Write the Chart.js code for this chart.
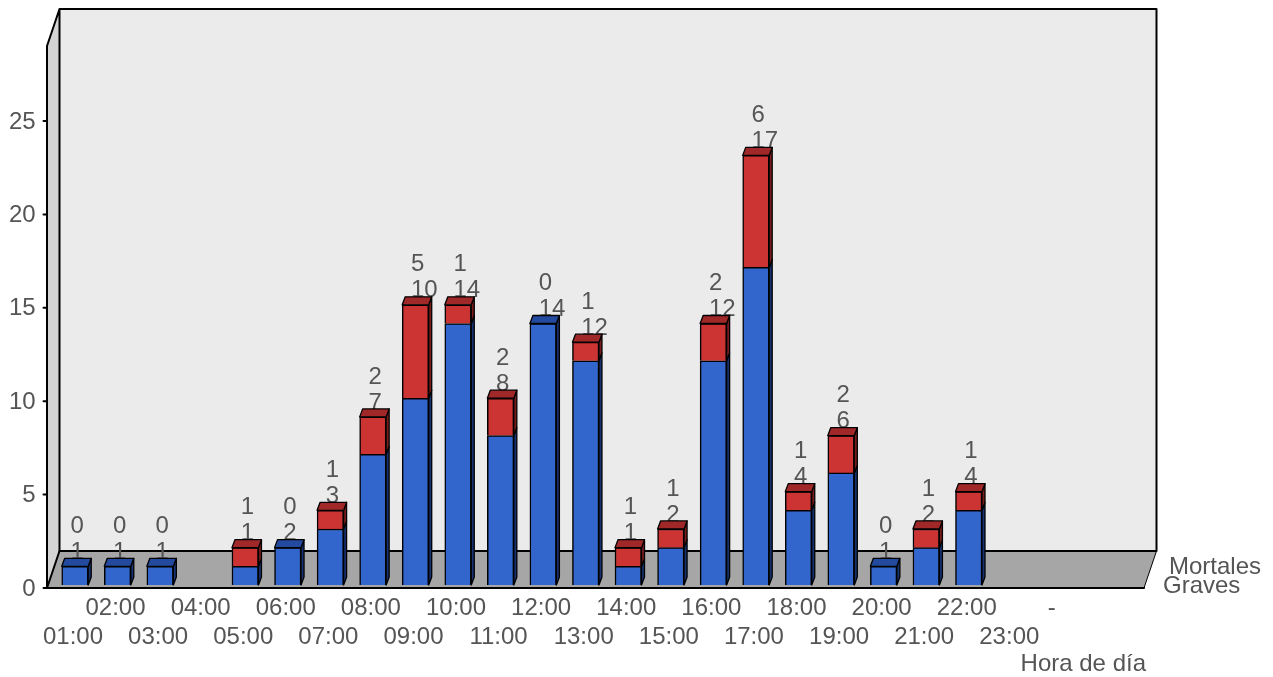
<!DOCTYPE html>
<html>
<head>
<meta charset="utf-8">
<style>
  html, body { margin: 0; padding: 0; background: #fff; }
  canvas { display: block; }
</style>
<script src="https://cdn.jsdelivr.net/npm/chart.js@4"></script>
</head>
<body>
<canvas id="horas" width="1273" height="677"></canvas>
<script>
const hourLabels = ["01:00", "02:00", "03:00", "04:00", "05:00", "06:00", "07:00", "08:00", "09:00", "10:00", "11:00", "12:00",
  "13:00", "14:00", "15:00", "16:00", "17:00", "18:00", "19:00", "20:00", "21:00", "22:00", "23:00", "-", ""];
const graves = [1, 1, 1, null, 1, 2, 3, 7, 10, 14, 8, 14, 12, 1, 2, 12, 17, 4, 6, 1, 2, 4, null, null, null];
const mortales = [0, 0, 0, null, 1, 0, 1, 2, 5, 1, 2, 0, 1, 1, 1, 2, 6, 1, 2, 0, 1, 1, null, null, null];
const seriesNames = ["Graves", "Mortales"];
const axisTitle = "Hora de día";

const textColor = "#555555";
const fontName = "'Liberation Sans', Arial, sans-serif";
const faces = [
  { front: "#3366cc", top: "#234a9e", side: "#173272" },
  { front: "#cc3333", top: "#a12828", side: "#7a1c1c" }
];

// caja 3D alrededor del area de barras
const box3d = {
  id: "box3d",
  beforeDraw(chart) {
    const ctx = chart.ctx;
    const x = chart.scales.x, y = chart.scales.y;
    const fl = x.left - 6.7, fr = x.right + 26.3;
    const fb = y.bottom + 3, ft = y.top + 2.7;
    const dx = 12.5, dy = 37;

    function poly(points, fill) {
      ctx.beginPath();
      points.forEach((p, i) => i ? ctx.lineTo(p[0], p[1]) : ctx.moveTo(p[0], p[1]));
      ctx.closePath();
      ctx.fillStyle = fill;
      ctx.fill();
    }
    function line(points, width) {
      ctx.beginPath();
      points.forEach((p, i) => i ? ctx.lineTo(p[0], p[1]) : ctx.moveTo(p[0], p[1]));
      ctx.lineWidth = width;
      ctx.strokeStyle = "#000";
      ctx.stroke();
    }
    ctx.save();
    ctx.lineJoin = "round";
    ctx.lineCap = "round";
    poly([[fl + dx, ft - dy], [fr + dx, ft - dy], [fr + dx, fb - dy], [fl + dx, fb - dy]], "#ebebeb");
    poly([[fl, ft], [fl + dx, ft - dy], [fl + dx, fb - dy], [fl, fb]], "#d4d4d4");
    poly([[fl, fb], [fl + dx, fb - dy], [fr + dx, fb - dy], [fr, fb]], "#a6a6a6");
    line([[fl, fb], [fl, ft], [fl + dx, ft - dy], [fr + dx, ft - dy], [fr + dx, fb - dy], [fl + dx, fb - dy], [fl + dx, ft - dy]], 2);
    line([[fl, fb], [fl + dx, fb - dy]], 2);
    line([[fl, fb], [fr, fb]], 2);
    line([[fr, fb], [fr + dx, fb - dy]], 1);

    // rayitas del eje Y
    y.ticks.forEach(t => {
      const py = y.getPixelForValue(t.value) + 3;
      line([[fl - 3.5, py], [fl, py]], 2);
    });

    // nombres de serie y titulo
    ctx.fillStyle = textColor;
    ctx.font = "24px " + fontName;
    ctx.textBaseline = "middle";
    ctx.textAlign = "left";
    ctx.fillText(chart.data.datasets[1].label, fr + 25, fb - 21);
    ctx.fillText(chart.data.datasets[0].label, fr + 19, fb - 2);
    ctx.textAlign = "right";
    ctx.fillText(axisTitle, fr + 2, 664);
    ctx.restore();
  },
  // los numeros quedan por detras de las barras
  beforeDatasetsDraw(chart) {
    const ctx = chart.ctx;
    const low = chart.getDatasetMeta(0).data, high = chart.getDatasetMeta(1).data;
    ctx.save();
    ctx.fillStyle = textColor;
    ctx.font = "24px " + fontName;
    ctx.textAlign = "left";
    ctx.textBaseline = "middle";
    graves.forEach((g, i) => {
      if (g === null) return;
      const left = low[i].x - 4.5, top = high[i].y;
      ctx.fillText(String(g), left, top - 14);
      ctx.fillText(String(mortales[i]), left, top - 40);
    });
    ctx.restore();
  },
  afterDatasetsDraw(chart) {
    const ctx = chart.ctx;
    const depthX = 3, depthY = 8;
    ctx.save();
    ctx.lineWidth = 1.3;
    ctx.lineJoin = "round";
    ctx.strokeStyle = "#000";
    [graves, mortales].forEach((values, ds) => {
      const bars = chart.getDatasetMeta(ds).data;
      values.forEach((v, i) => {
        if (!v) return;
        const b = bars[i], r = b.x + b.width / 2, l = b.x - b.width / 2;
        ctx.beginPath();
        ctx.moveTo(r, b.y);
        ctx.lineTo(r + depthX, b.y - depthY);
        ctx.lineTo(r + depthX, b.base - depthY);
        ctx.lineTo(r, b.base);
        ctx.closePath();
        ctx.fillStyle = faces[ds].side;
        ctx.fill();
        ctx.stroke();
        if (ds === 1 || !mortales[i]) {
          ctx.beginPath();
          ctx.moveTo(l, b.y);
          ctx.lineTo(l + depthX, b.y - depthY);
          ctx.lineTo(r + depthX, b.y - depthY);
          ctx.lineTo(r, b.y);
          ctx.closePath();
          ctx.fillStyle = faces[ds].top;
          ctx.fill();
          ctx.stroke();
        }
      });
    });
    ctx.restore();
  }
};

new Chart(document.getElementById("horas"), {
  type: "bar",
  data: {
    labels: hourLabels,
    datasets: [
      { label: seriesNames[0], data: graves, backgroundColor: faces[0].front, borderColor: "#000", borderWidth: 1.5, barThickness: 26.5 },
      { label: seriesNames[1], data: mortales, backgroundColor: faces[1].front, borderColor: "#000", borderWidth: 1.5, barThickness: 26.5 }
    ]
  },
  options: {
    responsive: false,
    animation: false,
    events: [],
    layout: { padding: { left: 0, right: 155.3, top: 43.3, bottom: 0 } },
    plugins: { legend: { display: false }, tooltip: { enabled: false } },
    scales: {
      x: {
        stacked: true,
        grid: { display: false, drawTicks: false },
        border: { display: false },
        afterFit(scale) { scale.height = 92; },
        ticks: {
          autoSkip: false,
          maxRotation: 0,
          minRotation: 0,
          padding: 9,
          labelOffset: -2,
          color: textColor,
          font: { family: fontName, size: 24 },
          callback(value, i) {
            return i % 2 === 0 ? ["", hourLabels[i]] : [hourLabels[i], ""];
          }
        }
      },
      y: {
        stacked: true,
        min: 0,
        max: 29,
        grid: { display: false, drawTicks: false },
        border: { display: false },
        afterFit(scale) { scale.width = 53.7; },
        afterBuildTicks(scale) { scale.ticks = scale.ticks.filter(t => t.value % 5 === 0); },
        ticks: {
          stepSize: 5,
          padding: 18,
          labelOffset: 4,
          color: textColor,
          font: { family: fontName, size: 24 }
        }
      }
    }
  },
  plugins: [box3d]
});
</script>
</body>
</html>
